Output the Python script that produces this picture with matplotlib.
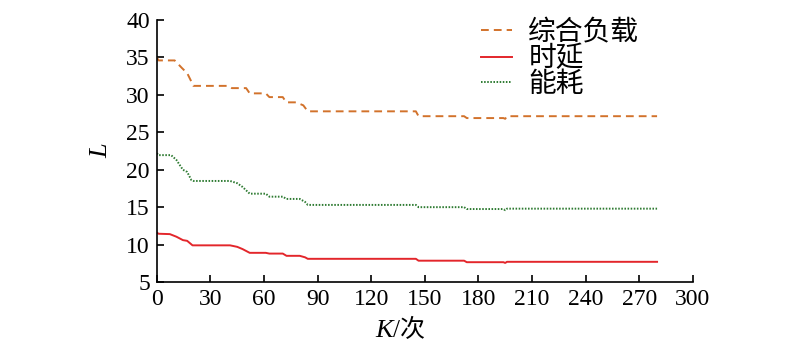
import matplotlib.pyplot as plt

plt.rcParams['font.family'] = ['Liberation Serif', 'Noto Sans CJK SC']

# 综合负载
load_x = [0, 1, 3, 10, 14, 17, 19.5, 20.5, 40, 42, 50, 52, 61, 63, 70.5, 72.5, 78, 82, 84.5,
          145, 146.5, 172, 173.5, 194, 195, 196, 280]
load_y = [35.0, 34.6, 34.6, 34.6, 33.6, 32.9, 31.7, 31.2, 31.2, 30.9, 30.9, 30.2, 30.2, 29.7, 29.7,
          29.0, 29.0, 28.6, 27.8, 27.8, 27.15, 27.15, 26.9, 26.9, 26.8, 27.15, 27.15]

# 时延
delay_x = [0, 1, 7.3, 11, 14.6, 17, 20, 41, 45, 48, 52, 61, 63, 70.5, 72.6, 80, 83, 84.5,
           145, 146.5, 172, 173.5, 194, 195, 196, 280]
delay_y = [11.6, 11.45, 11.4, 11.05, 10.6, 10.5, 9.9, 9.9, 9.7, 9.4, 8.9, 8.9, 8.8, 8.8, 8.5,
           8.5, 8.3, 8.1, 8.1, 7.85, 7.85, 7.65, 7.65, 7.55, 7.7, 7.7]

# 能耗
energy_x = [0, 1, 3, 8, 11, 14.6, 17, 19.4, 20.5, 41, 45, 48, 52, 61, 63, 70.5, 72.6, 80, 83, 84.5,
            145, 146.5, 172, 173.5, 194, 195, 196, 280]
energy_y = [22.2, 21.95, 21.95, 21.95, 21.3, 20.0, 19.7, 18.6, 18.5, 18.5, 18.2, 17.7, 16.8, 16.8,
            16.4, 16.4, 16.1, 16.1, 15.7, 15.3, 15.3, 15.0, 15.0, 14.75, 14.75, 14.6, 14.8, 14.8]

fig = plt.figure(figsize=(8, 3.57), dpi=100)
ax = fig.add_axes([0.196, 0.21, 0.67, 0.734])

ax.plot(load_x, load_y, color='#D2722B', lw=1.4, dashes=(4, 2.6), label='综合负载')
ax.plot(delay_x, delay_y, color='#E3262B', lw=1.4, label='时延')
ax.plot(energy_x, energy_y, color='#2E7B32', lw=1.4, linestyle=(0, (0.8, 0.8)), label='能耗')

ax.set_xlim(0, 300)
ax.set_ylim(5, 40)
ax.set_xticks(range(0, 301, 30))
ax.set_yticks(range(5, 41, 5))
ax.spines['top'].set_visible(False)
ax.spines['right'].set_visible(False)
for s in ['left', 'bottom']:
    ax.spines[s].set_linewidth(1.2)
ax.tick_params(direction='in', length=5, labelsize=17, width=1.2, pad=5)

# x label: italic K + "/次"
ax.text(0.44, -0.185, 'K', transform=ax.transAxes, fontsize=19, style='italic',
        ha='right', va='center')
ax.text(0.44, -0.185, '/次', transform=ax.transAxes, fontsize=18, ha='left', va='center')
ax.set_ylabel('L', fontsize=19, style='italic', labelpad=10)

ax.legend(loc='upper left', bbox_to_anchor=(0.605, 1.0), frameon=False, fontsize=20,
          handlelength=1.1, labelspacing=0.0, handletextpad=0.6, borderpad=0, borderaxespad=0)

fig.savefig('out.png', dpi=100)
